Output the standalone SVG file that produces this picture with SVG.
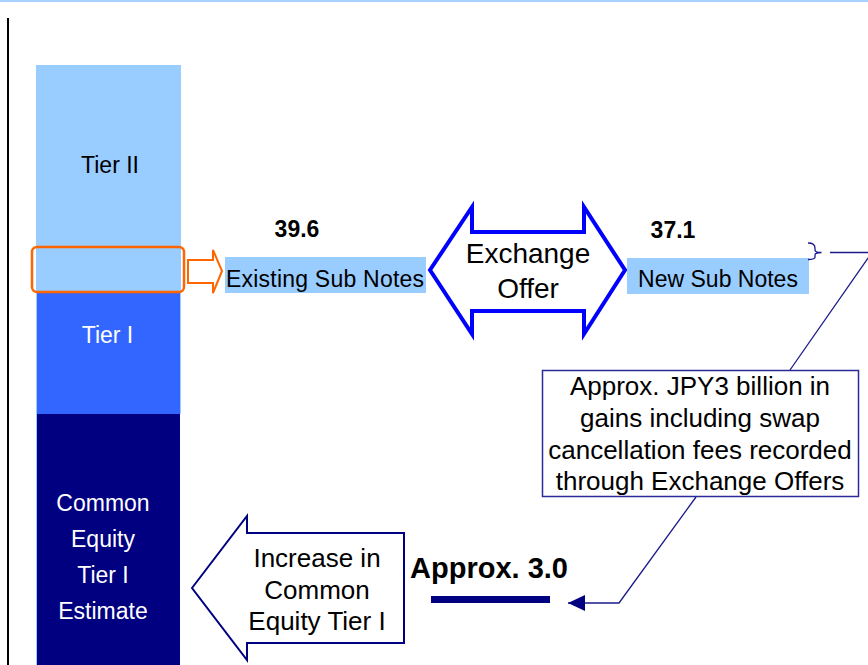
<svg xmlns="http://www.w3.org/2000/svg" width="868" height="665" viewBox="0 0 868 665">
<defs>
<style>
text{font-family:"Liberation Sans",Arial,sans-serif;}
.t23{font-size:23px;}
.t26{font-size:26px;text-anchor:middle;}
.c{text-anchor:middle;}
.b{font-weight:bold;}
.w{fill:#ffffff;}
.conn{fill:none;stroke:#1a1a8c;stroke-width:1.3;}
</style>
<marker id="ah" markerWidth="17" markerHeight="16" refX="17" refY="8" orient="auto" markerUnits="userSpaceOnUse">
<path d="M0,0 L17,8 L0,16 Z" fill="#000080"/>
</marker>
</defs>
<rect x="0" y="0" width="868" height="665" fill="#ffffff"/>
<line x1="0" y1="1" x2="868" y2="1" stroke="#a6d4ff" stroke-width="2"/>
<line x1="8" y1="18" x2="8" y2="665" stroke="#000000" stroke-width="2"/>

<g id="tier2">
<rect x="36" y="65" width="145" height="228" fill="#99ccff"/>
<text class="t23 c" x="110" y="173">Tier II</text>
</g>
<g id="tier1">
<rect x="37" y="292" width="143" height="122" fill="#3366ff"/>
<line x1="36.5" y1="292" x2="36.5" y2="414" stroke="#99ccff"/>
<line x1="180.5" y1="292" x2="180.5" y2="414" stroke="#99ccff"/>
<text class="t23 c w" x="107.5" y="343">Tier I</text>
</g>
<g id="cet1">
<rect x="37" y="414" width="143" height="251" fill="#000080"/>
<line x1="36.5" y1="414" x2="36.5" y2="665" stroke="#99ccff"/>
<text class="t23 c w" x="103" y="511">Common</text>
<text class="t23 c w" x="103" y="547">Equity</text>
<text class="t23 c w" x="103" y="583">Tier I</text>
<text class="t23 c w" x="103" y="619">Estimate</text>
</g>
<g id="highlight">
<rect x="32" y="247" width="152" height="45" rx="5" fill="none" stroke="#ff6600" stroke-width="2.5"/>
</g>
<g id="orange-arrow">
<polygon points="188,260 213,260 213,250 222,271 213,293 213,283 188,283" fill="#ffffff" stroke="#ff6600" stroke-width="2"/>
</g>
<g id="existing">
<rect x="225" y="257" width="201" height="36" fill="#99ccff"/>
<text class="t23 b c" x="297" y="237">39.6</text>
<text class="t23" x="226" y="287" textLength="198">Existing Sub Notes</text>
</g>
<g id="exchange">
<polygon points="430,270 472,207 472,232 584,232 584,207 625,270 584,334 584,311 472,311 472,334" fill="#ffffff" stroke="#0000ff" stroke-width="4" stroke-linejoin="miter"/>
<text class="t26" x="528" y="263" style="font-size:28px">Exchange</text>
<text class="t26" x="528" y="298" style="font-size:28px">Offer</text>
</g>
<g id="new">
<rect x="627" y="258" width="182" height="36" fill="#99ccff"/>
<text class="t23 b c" x="673" y="238">37.1</text>
<text class="t23 c" x="718" y="287">New Sub Notes</text>
</g>
<g id="gains-box">
<rect x="542.5" y="370.5" width="316" height="126" fill="#ffffff" stroke="#2a2a9a" stroke-width="1.5"/>
<text class="t26" x="700" y="395">Approx. JPY3 billion in</text>
<text class="t26" x="700" y="427">gains including swap</text>
<text class="t26" x="700" y="459">cancellation fees recorded</text>
<text class="t26" x="700" y="490">through Exchange Offers</text>
</g>
<g id="increase">
<polygon points="192,588 247,516 247,533 404,533 404,643 247,643 247,660" fill="#ffffff" stroke="#000080" stroke-width="2"/>
<text class="t26" x="317" y="567">Increase in</text>
<text class="t26" x="317" y="599">Common</text>
<text class="t26" x="317" y="630">Equity Tier I</text>
</g>
<g id="approx">
<text class="b" x="489" y="578" text-anchor="middle" style="font-size:29px">Approx. 3.0</text>
<rect x="431" y="596" width="119" height="7" fill="#000080"/>
</g>
<g id="connectors">
<path class="conn" d="M808,243 Q815,243 815,248 L815,250 Q815,252.5 821.5,252.5 Q815,252.5 815,255 L815,257 Q815,259.5 808,259.5"/>
<polyline class="conn" points="830,252.5 872,252.5 790,370"/>
<polyline class="conn" points="696,497 619,603 568,603" marker-end="url(#ah)"/>
</g>
</svg>
